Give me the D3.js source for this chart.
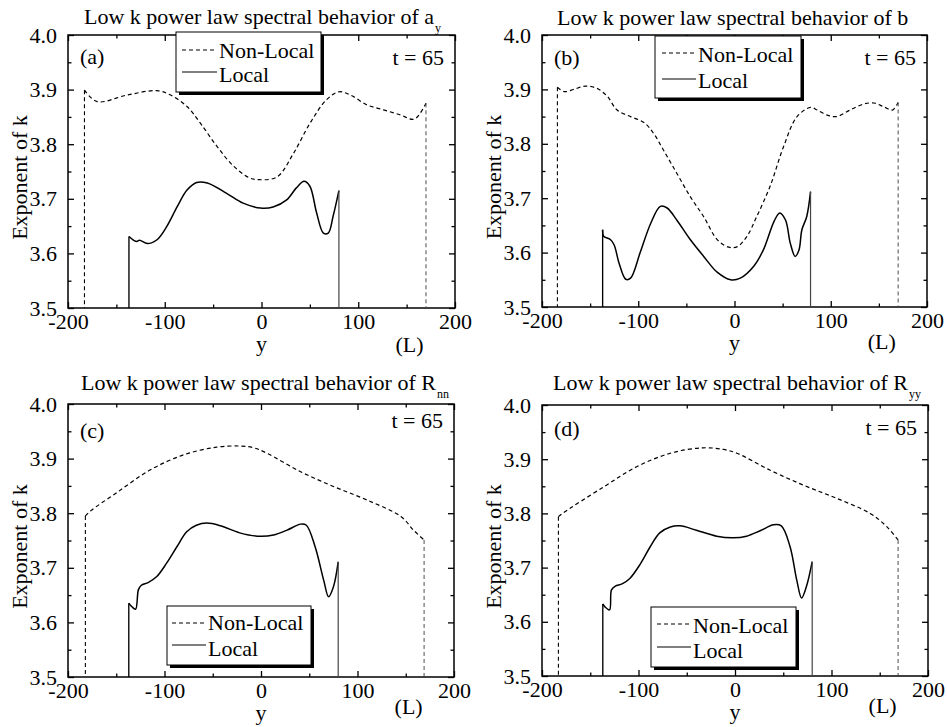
<!DOCTYPE html>
<html><head><meta charset="utf-8">
<script src="https://cdn.jsdelivr.net/npm/d3@7"></script>
<style>body{margin:0;background:#fff;}</style></head>
<body><svg id="c" width="947" height="727" font-family="Liberation Serif"></svg>
<script>
// ---------- DATA ----------
const xTicks = [-200, -100, 0, 100, 200];
const xMinor = [-150, -50, 50, 150];
const yTicks = [3.5, 3.6, 3.7, 3.8, 3.9, 4.0];
const yMinor = [3.55, 3.65, 3.75, 3.85, 3.95];
const panelLabels = ["(a)", "(b)", "(c)", "(d)"];
const titleMain = ["Low k power law spectral behavior of a", "Low k power law spectral behavior of b",
                   "Low k power law spectral behavior of R", "Low k power law spectral behavior of R"];
const titleSub = ["y", "", "nn", "yy"];
const timeLabel = "t = 65";
const seriesNames = ["Non-Local", "Local"];

const aNonLocal = [[-183,3.899],[-170,3.878],[-139,3.890],[-108,3.898],[-94,3.890],[-77,3.869],[-63,3.838],
  [-46,3.796],[-29,3.760],[-12,3.738],[-3,3.735],[16,3.740],[33,3.783],[50,3.838],[67,3.881],[80,3.896],
  [92,3.890],[109,3.872],[126,3.863],[143,3.854],[158,3.846],[170,3.875]];
const aLocal = [[-137,3.631],[-132,3.624],[-129,3.622],[-126,3.624],[-118,3.618],[-108,3.625],[-98,3.649],
  [-87,3.686],[-77,3.716],[-67,3.730],[-56,3.729],[-36,3.710],[-19,3.692],[-1,3.683],[12,3.685],[26,3.698],
  [36,3.720],[44,3.732],[50,3.723],[57,3.674],[64,3.637],[69,3.637],[74,3.668],[80,3.715]];
const bNonLocal = [[-184,3.904],[-177,3.896],[-167,3.900],[-155,3.906],[-143,3.902],[-132,3.887],[-122,3.862],
  [-108,3.850],[-94,3.839],[-84,3.819],[-74,3.789],[-60,3.746],[-46,3.703],[-32,3.666],[-18,3.624],[-6,3.610],
  [3,3.611],[13,3.630],[23,3.666],[37,3.722],[51,3.795],[65,3.850],[79,3.867],[86,3.862],[96,3.853],
  [106,3.850],[120,3.862],[134,3.873],[145,3.875],[155,3.868],[164,3.862],[170,3.876]];
const bLocal = [[-137,3.642],[-136,3.630],[-129,3.624],[-125,3.614],[-120,3.581],[-113,3.551],[-108,3.553],
  [-98,3.600],[-87,3.654],[-77,3.685],[-70,3.682],[-60,3.660],[-46,3.624],[-32,3.593],[-18,3.564],[-4,3.550],
  [6,3.553],[20,3.575],[30,3.605],[41,3.657],[47,3.673],[53,3.660],[58,3.617],[63,3.593],[67,3.605],
  [70,3.642],[75,3.666],[79,3.712]];
const cNonLocal = [[-182,3.795],[-176,3.805],[-150,3.837],[-115,3.879],[-80,3.907],[-46,3.921],[-22,3.923],
  [-8,3.920],[6,3.910],[41,3.876],[75,3.849],[110,3.824],[145,3.794],[158,3.769],[169,3.751]];
const cLocal = [[-137,3.635],[-134,3.629],[-130,3.624],[-127,3.660],[-124,3.668],[-117,3.673],[-108,3.684],
  [-98,3.708],[-87,3.739],[-77,3.766],[-67,3.778],[-56,3.782],[-42,3.777],[-22,3.764],[-4,3.758],[13,3.760],
  [27,3.769],[41,3.780],[47,3.778],[56,3.739],[65,3.677],[70,3.647],[75,3.665],[80,3.711]];
const dNonLocal = [[-183,3.794],[-178,3.801],[-136,3.849],[-102,3.886],[-67,3.911],[-33,3.921],[-12,3.918],
  [2,3.911],[36,3.880],[71,3.852],[105,3.828],[140,3.800],[157,3.776],[169,3.751]];
const dLocal = [[-137,3.633],[-135,3.628],[-130,3.622],[-128,3.659],[-124,3.666],[-117,3.670],[-109,3.680],
  [-98,3.707],[-88,3.738],[-78,3.764],[-67,3.775],[-57,3.777],[-40,3.769],[-19,3.758],[-2,3.755],[12,3.758],
  [26,3.768],[40,3.779],[48,3.777],[57,3.739],[64,3.677],[69,3.644],[74,3.665],[80,3.711]];
const panelData = [[aNonLocal, aLocal], [bNonLocal, bLocal], [cNonLocal, cLocal], [dNonLocal, dLocal]];

// ---------- LAYOUT ----------
const layout = [
  {L:68, R:455, T:35, B:308, tx:84, ty:24, lab:29, tt:30, Lb:44,
   leg:{x:176,y:32,w:145,h:60, l1:50, t1:58, l2:72, t2:82, lx:182, tx:219}},
  {L:542, R:927, T:35, B:307, tx:557, ty:25, lab:30, tt:30, Lb:42,
   leg:{x:655,y:36,w:146,h:62, l1:53, t1:62, l2:79, t2:88, lx:662, tx:698}},
  {L:68, R:454, T:404, B:677, tx:81, ty:390, lab:34, tt:24, Lb:37,
   leg:{x:167,y:606,w:144,h:59, l1:623, t1:630, l2:645, t2:656, lx:172, tx:208}},
  {L:542, R:928, T:405, B:676, tx:553, ty:390, lab:31, tt:30, Lb:37,
   leg:{x:651,y:607,w:145,h:60, l1:624, t1:633, l2:647, t2:658, lx:657, tx:693}}
];

const svg = d3.select("#c");
const FS = 22;
const FONT = "Liberation Serif";
const T = (sel) => sel.append("text").attr("font-family", FONT).attr("font-size", FS).attr("fill", "#000");

layout.forEach((p, i) => {
  const x = d3.scaleLinear().domain([-200, 200]).range([p.L, p.R]);
  const y = d3.scaleLinear().domain([3.5, 4.0]).range([p.B, p.T]);
  const g = svg.append("g");

  const fmtX = d => String(d);
  const fmtY = d => d.toFixed(1);
  const mk = (axis, tr) => {
    const a = g.append("g").attr("transform", tr).call(axis);
    a.attr("font-family", FONT).attr("font-size", FS);
    a.select(".domain").remove();
    a.selectAll("line").attr("stroke", "#000").attr("stroke-width", 1.3);
    a.selectAll("text").attr("font-family", FONT).attr("font-size", FS).attr("fill", "#000");
    return a;
  };
  const bx = mk(d3.axisBottom(x).tickValues(xTicks).tickSize(-6).tickFormat(fmtX), `translate(0,${p.B})`);
  bx.selectAll("text").attr("y", 21).attr("dy", null);
  mk(d3.axisBottom(x).tickValues(xMinor).tickSize(-3.5).tickFormat(""), `translate(0,${p.B})`);
  mk(d3.axisTop(x).tickValues(xTicks).tickSize(-6).tickFormat(""), `translate(0,${p.T})`);
  mk(d3.axisTop(x).tickValues(xMinor).tickSize(-3.5).tickFormat(""), `translate(0,${p.T})`);
  mk(d3.axisLeft(y).tickValues(yTicks).tickSize(-6).tickPadding(11).tickFormat(fmtY), `translate(${p.L},0)`);
  mk(d3.axisLeft(y).tickValues(yMinor).tickSize(-3.5).tickFormat(""), `translate(${p.L},0)`);
  mk(d3.axisRight(y).tickValues(yTicks).tickSize(-6).tickFormat(""), `translate(${p.R},0)`);
  mk(d3.axisRight(y).tickValues(yMinor).tickSize(-3.5).tickFormat(""), `translate(${p.R},0)`);

  g.append("rect").attr("x", p.L).attr("y", p.T).attr("width", p.R - p.L).attr("height", p.B - p.T)
    .attr("fill", "none").attr("stroke", "#000").attr("stroke-width", 1.5);

  const line = d3.line().x(d => x(d[0])).y(d => y(d[1])).curve(d3.curveCatmullRom.alpha(0.5));
  const [nl, lo] = panelData[i];
  const drawSeries = (data, dash, w) => {
    g.append("path").attr("d", line(data)).attr("fill", "none").attr("stroke", "#000")
      .attr("stroke-width", w).attr("stroke-dasharray", dash);
    const f = data[0], l = data[data.length - 1];
    g.append("line").attr("x1", x(f[0])).attr("x2", x(f[0])).attr("y1", y(f[1])).attr("y2", y(3.5))
      .attr("stroke", "#000").attr("stroke-width", w * 0.9).attr("stroke-dasharray", dash);
    g.append("line").attr("x1", x(l[0])).attr("x2", x(l[0])).attr("y1", y(l[1])).attr("y2", y(3.5))
      .attr("stroke", "#444").attr("stroke-width", w * 0.8).attr("stroke-dasharray", dash);
  };
  drawSeries(nl, "4,3", 1.2);
  drawSeries(lo, null, 1.5);

  const t = T(svg).attr("x", p.tx).attr("y", p.ty);
  t.append("tspan").text(titleMain[i]);
  if (titleSub[i]) t.append("tspan").attr("dy", 8).attr("dx", 1).attr("font-size", 12).text(titleSub[i]);

  T(svg).attr("transform", `translate(${p.L - 41},${(p.T + p.B) / 2 + 6}) rotate(-90)`)
    .attr("text-anchor", "middle").text("Exponent of k");
  T(svg).attr("x", x(0)).attr("y", p.B + 43).attr("text-anchor", "middle").text("y");
  T(svg).attr("x", x(153)).attr("y", p.B + p.Lb).attr("text-anchor", "middle").text("(L)");

  T(svg).attr("x", p.L + 12).attr("y", p.T + p.lab).text(panelLabels[i]);
  T(svg).attr("x", p.R - 11).attr("y", p.T + p.tt).attr("text-anchor", "end").text(timeLabel);

  const lg = p.leg;
  svg.append("rect").attr("x", lg.x + 3).attr("y", lg.y + 3).attr("width", lg.w).attr("height", lg.h).attr("fill", "#000");
  svg.append("rect").attr("x", lg.x).attr("y", lg.y).attr("width", lg.w).attr("height", lg.h)
    .attr("fill", "#fff").attr("stroke", "#000").attr("stroke-width", 1);
  svg.append("line").attr("x1", lg.lx).attr("x2", lg.tx - 2).attr("y1", lg.l1).attr("y2", lg.l1)
    .attr("stroke", "#000").attr("stroke-width", 1.1).attr("stroke-dasharray", "4,3");
  svg.append("line").attr("x1", lg.lx).attr("x2", lg.tx - 2).attr("y1", lg.l2).attr("y2", lg.l2)
    .attr("stroke", "#000").attr("stroke-width", 1.1);
  T(svg).attr("x", lg.tx).attr("y", lg.t1).text(seriesNames[0]);
  T(svg).attr("x", lg.tx).attr("y", lg.t2).text(seriesNames[1]);
});
</script></body></html>
